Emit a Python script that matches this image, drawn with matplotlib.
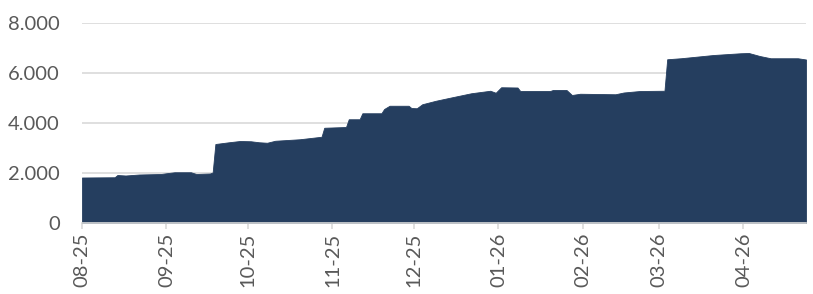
import matplotlib
matplotlib.use("Agg")
import matplotlib.pyplot as plt
import pandas as pd

dates = ["2025-08-01", "2025-08-13", "2025-08-14", "2025-08-17", "2025-08-22", "2025-08-30",
         "2025-09-01", "2025-09-04", "2025-09-10", "2025-09-12", "2025-09-17", "2025-09-18",
         "2025-09-19", "2025-09-24", "2025-09-28", "2025-10-02", "2025-10-05", "2025-10-08",
         "2025-10-11", "2025-10-20", "2025-10-28", "2025-10-29", "2025-11-06", "2025-11-07",
         "2025-11-11", "2025-11-12", "2025-11-19", "2025-11-20", "2025-11-22", "2025-11-29",
         "2025-11-30", "2025-12-02", "2025-12-04", "2025-12-09", "2025-12-15", "2025-12-22",
         "2025-12-29", "2025-12-31", "2026-01-02", "2026-01-08", "2026-01-09", "2026-01-20",
         "2026-01-21", "2026-01-26", "2026-01-28", "2026-01-31", "2026-02-13", "2026-02-16",
         "2026-02-22", "2026-03-03", "2026-03-04", "2026-03-09", "2026-03-21", "2026-03-31",
         "2026-04-03", "2026-04-07", "2026-04-11", "2026-04-21", "2026-04-24"]
values = [1820, 1830, 1920, 1900, 1940, 1960,
          1990, 2030, 2030, 1960, 1980, 2020,
          3160, 3230, 3280, 3270, 3230, 3210,
          3290, 3350, 3450, 3810, 3840, 4150,
          4150, 4390, 4390, 4560, 4690, 4690,
          4600, 4590, 4750, 4890, 5030, 5190,
          5290, 5210, 5430, 5420, 5280, 5280,
          5320, 5320, 5120, 5170, 5150, 5220,
          5280, 5290, 6550, 6590, 6720, 6790,
          6800, 6680, 6590, 6590, 6540]
tick_dates = ["2025-08-01", "2025-09-01", "2025-10-01", "2025-11-01", "2025-12-01",
              "2026-01-01", "2026-02-01", "2026-03-01", "2026-04-01"]
tick_labels = ["08-25", "09-25", "10-25", "11-25", "12-25", "01-26", "02-26", "03-26", "04-26"]
y_ticks = [0, 2000, 4000, 6000, 8000]
y_labels = ["0", "2.000", "4.000", "6.000", "8.000"]

x = pd.to_datetime(dates)
fig = plt.figure(figsize=(8.13, 2.94), dpi=100)
ax = fig.add_axes([82 / 813, 1 - 223 / 294, (806 - 82) / 813, 200 / 294])
ax.fill_between(x, values, 0, color="#253E5F", linewidth=0.6, edgecolor="#253E5F", zorder=2)
ax.set_xlim(x[0], x[-1])
ax.set_ylim(0, 8000)
ax.set_yticks(y_ticks)
ax.set_yticklabels(y_labels)
ax.set_xticks(pd.to_datetime(tick_dates))
ax.set_xticklabels(tick_labels, rotation=90)
ax.grid(axis="y", color="#D9D9D9", linewidth=1.2, zorder=0)
for s in ["top", "right", "left"]:
    ax.spines[s].set_visible(False)
ax.spines["bottom"].set_color("#D9D9D9")
ax.spines["bottom"].set_linewidth(1.2)
ax.spines["bottom"].set_zorder(3)
ax.tick_params(axis="y", length=0, pad=16, labelsize=14.5, labelcolor="#595959")
ax.tick_params(axis="x", length=4, width=1.2, color="#D9D9D9", pad=3, labelsize=14.5,
               labelcolor="#595959")
for lab in ax.get_xticklabels() + ax.get_yticklabels():
    lab.set_fontfamily("Lato")
fig.savefig("out.png", dpi=100)
